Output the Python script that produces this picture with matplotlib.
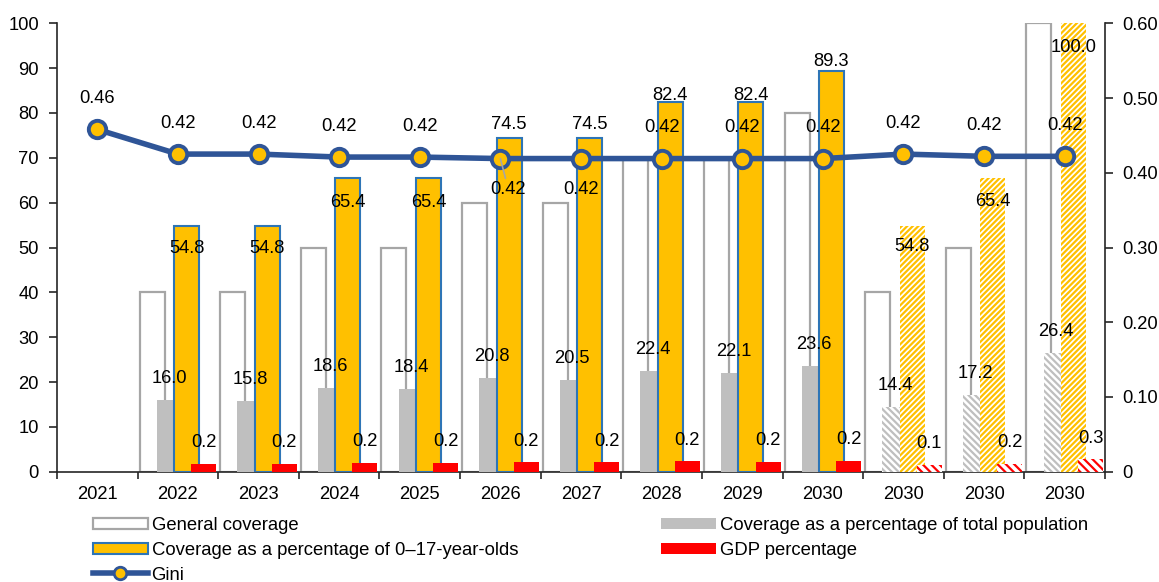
import numpy as np
import matplotlib
matplotlib.use("Agg")
import matplotlib.pyplot as plt
from matplotlib.lines import Line2D
from matplotlib.patches import Patch

# ---- data -------------------------------------------------------------
years = ["2021", "2022", "2023", "2024", "2025", "2026", "2027",
         "2028", "2029", "2030", "2030", "2030", "2030"]
general_coverage = [np.nan, 40, 40, 50, 50, 60, 60, 70, 70, 80, 40, 50, 100]
pop_share = [np.nan, 16.0, 15.8, 18.6, 18.4, 20.8, 20.5, 22.4, 22.1, 23.6,
             14.4, 17.2, 26.4]
child_share = [np.nan, 54.8, 54.8, 65.4, 65.4, 74.5, 74.5, 82.4, 82.4, 89.3,
               54.8, 65.4, 100.0]
gdp_share = [np.nan, 0.16, 0.16, 0.18, 0.18, 0.19, 0.19, 0.21, 0.20, 0.22,
             0.14, 0.16, 0.26]
gini = [0.458, 0.425, 0.425, 0.421, 0.421, 0.419, 0.419, 0.419, 0.419, 0.419,
        0.425, 0.422, 0.422]
scenario = [False] * 10 + [True] * 3

# ---- label placement (pixel offsets from the mark) --------------------
child_label_dy = [0, -23, -23, -24, -24, 13, 13, 7, 7, 10, -21, -23, -24]
gini_label_dy = [31, 31, 31, 31, 31, -31, -31, 31, 31, 31, 31, 31, 31]
gini_label_dx = [0, 0, 0, 0, 0, 8, 0, 0, 0, 0, 0, 0, 0]

# ---- style ------------------------------------------------------------
plt.rcParams["font.family"] = ["Liberation Sans", "DejaVu Sans"]
plt.rcParams["hatch.linewidth"] = 1.6
FS = 13.2
ORANGE = "#FFC000"
EDGE_BLUE = "#2E75B6"
GINI_BLUE = "#2F5597"
GREY = "#BFBFBF"
OUTLINE = "#A6A6A6"
RED = "#FF0000"
AXIS = "#262626"

fig = plt.figure(figsize=(11.59, 5.82), dpi=100)
ax = fig.add_axes([57 / 1159, 1 - 471.7 / 582, (1105 - 57) / 1159, (471.7 - 23.3) / 582])
ax_gdp = ax.twinx()
ax_gini = ax.twinx()

x = np.arange(len(years))
w = 0.31
offs = [-0.32, -0.107, 0.107, 0.32]

for i in range(len(years)):
    proj = scenario[i]
    # general coverage (outlined)
    ax.bar(x[i] + offs[0], general_coverage[i], w, facecolor="white",
           edgecolor=OUTLINE, linewidth=1.6, zorder=2)
    # share of total population
    if proj:
        ax.bar(x[i] + offs[1], pop_share[i], w, facecolor="white",
               edgecolor=GREY, hatch="\\\\\\\\\\", linewidth=0, zorder=3)
    else:
        ax.bar(x[i] + offs[1], pop_share[i], w, color=GREY, linewidth=0, zorder=3)
    # share of 0-17 year olds
    if proj:
        ax.bar(x[i] + offs[2], child_share[i], w, facecolor="white",
               edgecolor=ORANGE, hatch="//////", linewidth=0, zorder=4)
    else:
        ax.bar(x[i] + offs[2], child_share[i], w, facecolor=ORANGE,
               edgecolor=EDGE_BLUE, linewidth=1.5, zorder=4)
    # GDP share
    if proj:
        ax_gdp.bar(x[i] + offs[3], gdp_share[i], w, facecolor="white",
                   edgecolor=RED, hatch="\\\\\\\\", linewidth=0, zorder=5)
    else:
        ax_gdp.bar(x[i] + offs[3], gdp_share[i], w, color=RED, linewidth=0, zorder=5)

# value labels for the bars
for i in range(len(years)):
    if not np.isnan(pop_share[i]):
        ax.annotate(f"{pop_share[i]:.1f}", (x[i] + offs[1], pop_share[i]),
                    xytext=(0, 21.5), textcoords="offset pixels",
                    ha="center", va="center", fontsize=FS, zorder=10)
    if not np.isnan(child_share[i]):
        ax.annotate(f"{child_share[i]:.1f}", (x[i] + offs[2], child_share[i]),
                    xytext=(0, child_label_dy[i]), textcoords="offset pixels",
                    ha="center", va="center", fontsize=FS, zorder=10)
    if not np.isnan(gdp_share[i]):
        ax_gdp.annotate(f"{gdp_share[i]:.1f}", (x[i] + offs[3], gdp_share[i]),
                        xytext=(0, 21), textcoords="offset pixels",
                        ha="center", va="center", fontsize=FS, zorder=10)

# Gini line
ax_gini.plot(x, gini, color=GINI_BLUE, linewidth=4, marker="o",
             markersize=12.5, markerfacecolor=ORANGE, markeredgecolor=GINI_BLUE,
             markeredgewidth=2.8, zorder=6)
for i in range(len(years)):
    arrow = None
    if gini_label_dx[i]:
        arrow = dict(arrowstyle="-", color=OUTLINE, lw=1.2, shrinkA=0, shrinkB=0)
    ax_gini.annotate(f"{gini[i]:.2f}", (x[i], gini[i]),
                     xytext=(gini_label_dx[i], gini_label_dy[i]),
                     textcoords="offset pixels", ha="center", va="center",
                     fontsize=FS, zorder=10, arrowprops=arrow)

# ---- axes -------------------------------------------------------------
ax.set_xlim(-0.5, len(years) - 0.5)
ax.set_ylim(0, 100)
ax.set_yticks(np.arange(0, 101, 10))
ax.set_xticks(x)
ax.set_xticklabels(years)
ax.set_xticks(np.arange(-0.5, len(years), 1.0), minor=True)
ax.tick_params(axis="x", which="major", length=0, pad=10, labelsize=FS)
ax.tick_params(axis="x", which="minor", length=5, width=1.2, color=AXIS, direction="out")
ax.tick_params(axis="y", length=6, width=1.2, color=AXIS, pad=7, labelsize=FS)
for s in ["top", "right"]:
    ax.spines[s].set_visible(False)
for s in ["left", "bottom"]:
    ax.spines[s].set_color(AXIS)
    ax.spines[s].set_linewidth(1.2)

ax_gdp.set_ylim(0, 9.2)
ax_gdp.set_axis_off()

ax_gini.set_ylim(0, 0.6)
ax_gini.set_yticks(np.arange(0, 0.61, 0.1))
ax_gini.set_yticklabels(["0"] + [f"{v:.2f}" for v in np.arange(0.1, 0.61, 0.1)])
ax_gini.tick_params(axis="y", length=6, width=1.2, color=AXIS, pad=6.5, labelsize=FS)
for s in ["top", "left", "bottom"]:
    ax_gini.spines[s].set_visible(False)
ax_gini.spines["right"].set_color(AXIS)
ax_gini.spines["right"].set_linewidth(1.2)

# ---- legend -----------------------------------------------------------
handles = [
    Patch(facecolor="white", edgecolor=OUTLINE, linewidth=1.6),
    Patch(facecolor=ORANGE, edgecolor=EDGE_BLUE, linewidth=1.5),
    Line2D([0], [0], color=GINI_BLUE, linewidth=4, marker="o", markersize=9,
           markerfacecolor=ORANGE, markeredgecolor=GINI_BLUE, markeredgewidth=2),
    Patch(facecolor=GREY, edgecolor="none"),
    Patch(facecolor=RED, edgecolor="none"),
]
labels = [
    "General coverage",
    "Coverage as a percentage of 0\u201317-year-olds",
    "Gini",
    "Coverage as a percentage of total population",
    "GDP percentage",
]
fig.legend(handles, labels, ncol=2, loc="upper left",
           bbox_to_anchor=(93 / 1159, 1 - 517 / 582), frameon=False,
           fontsize=13.3, handlelength=2.97, handleheight=0.55,
           handletextpad=0.2, columnspacing=7.75, labelspacing=0.42,
           borderpad=0, borderaxespad=0)

fig.savefig("out.png", dpi=100)
